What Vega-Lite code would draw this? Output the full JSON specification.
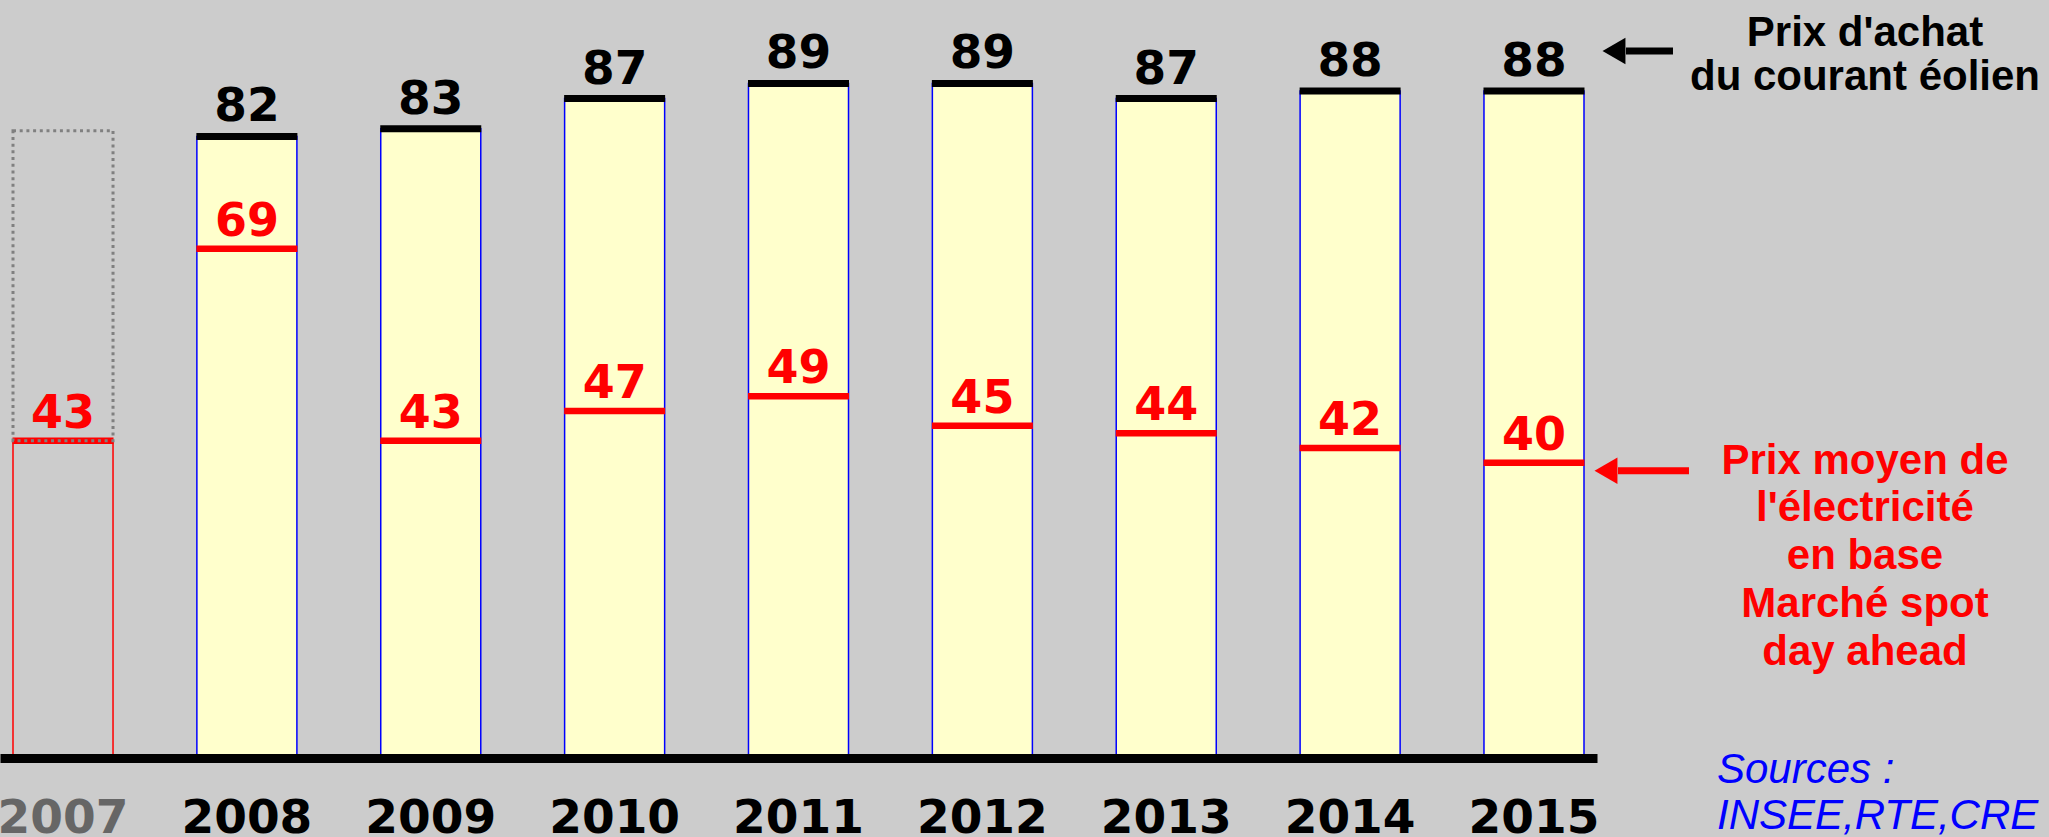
{
  "$schema": "https://vega.github.io/schema/vega-lite/v6.json",
  "width": 1597,
  "height": 758,
  "autosize": {"type": "none"},
  "padding": {"left": 0, "top": 0, "right": 452, "bottom": 79},
  "background": "#cccccc",
  "config": {"view": {"stroke": null}, "font": "Liberation Sans"},
  "data": {
    "values": [
      {"annee": "2007", "achat": null, "spot": 43, "estim": 85},
      {"annee": "2008", "achat": 82, "spot": 69, "estim": null},
      {"annee": "2009", "achat": 83, "spot": 43, "estim": null},
      {"annee": "2010", "achat": 87, "spot": 47, "estim": null},
      {"annee": "2011", "achat": 89, "spot": 49, "estim": null},
      {"annee": "2012", "achat": 89, "spot": 45, "estim": null},
      {"annee": "2013", "achat": 87, "spot": 44, "estim": null},
      {"annee": "2014", "achat": 88, "spot": 42, "estim": null},
      {"annee": "2015", "achat": 88, "spot": 40, "estim": null}
    ]
  },
  "encoding": {
    "x": {
      "field": "annee",
      "type": "ordinal",
      "scale": {"type": "band", "domain": ["2007", "2008", "2009", "2010", "2011", "2012", "2013", "2014", "2015"], "paddingInner": 0.456, "paddingOuter": 0.0707},
      "axis": {
        "title": null,
        "domain": true,
        "domainColor": "#000000",
        "domainWidth": 9,
        "ticks": false,
        "tickSize": 0,
        "grid": false,
        "labelAngle": 0,
        "labelFont": "DejaVu Sans",
        "labelFontSize": 47,
        "labelFontWeight": "bold",
        "labelColor": {"condition": {"test": "datum.value == '2007'", "value": "#666666"}, "value": "#000000"},
        "labelBaseline": "alphabetic",
        "labelPadding": 74,
        "labelOverlap": false,
        "labelBound": false,
        "zindex": 1
      }
    }
  },
  "layer": [
    {
      "layer": [
        {
          "mark": {"type": "bar", "fill": "#ffffcc", "stroke": "#0000ff", "strokeWidth": 1.5},
          "encoding": {
            "y": {"field": "achat", "type": "quantitative", "scale": {"domain": [0, 100], "nice": false}, "axis": null}
          }
        },
        {
          "mark": {"type": "tick", "color": "#000000", "thickness": 7, "size": 101, "opacity": 1},
          "encoding": {"y": {"field": "achat", "type": "quantitative"}}
        },
        {
          "mark": {"type": "text", "font": "DejaVu Sans", "fontSize": 47, "fontWeight": "bold", "color": "#000000", "baseline": "alphabetic", "dy": -15},
          "encoding": {
            "y": {"field": "achat", "type": "quantitative"},
            "text": {"field": "achat", "type": "quantitative"}
          }
        },
        {
          "data": {"values": [{"annee": "2015", "valeur": 88}]},
          "mark": {"type": "rule", "color": "#000000", "strokeWidth": 7, "xOffset": 92, "x2Offset": 139, "yOffset": -40},
          "encoding": {
            "x2": {"field": "annee"},
            "y": {"field": "valeur", "type": "quantitative"}
          }
        },
        {
          "data": {"values": [{"annee": "2015", "valeur": 88}]},
          "mark": {"type": "point", "shape": "triangle-left", "filled": true, "color": "#000000", "opacity": 1, "size": 700, "xOffset": 80, "yOffset": -40},
          "encoding": {"y": {"field": "valeur", "type": "quantitative"}}
        },
        {
          "data": {"values": [{"annee": "2015", "valeur": 88, "texte": "Prix d'achat\ndu courant éolien"}]},
          "mark": {"type": "text", "lineBreak": "\n", "font": "Liberation Sans", "fontSize": 42, "fontWeight": "bold", "color": "#000000", "align": "center", "baseline": "alphabetic", "dx": 331, "dy": -45, "lineHeight": 44},
          "encoding": {
            "y": {"field": "valeur", "type": "quantitative"},
            "text": {"field": "texte"}
          }
        }
      ]
    },
    {
      "layer": [
        {
          "transform": [{"filter": "isValid(datum.estim)"}],
          "mark": {"type": "bar", "filled": false, "color": "#ff0000", "strokeWidth": 1.5},
          "encoding": {
            "y": {"field": "spot", "type": "quantitative", "scale": {"domain": [0, 102.7], "nice": false}, "axis": null}
          }
        },
        {
          "mark": {"type": "tick", "color": "#ff0000", "thickness": 6.5, "size": 101, "opacity": 1},
          "encoding": {"y": {"field": "spot", "type": "quantitative"}}
        },
        {
          "transform": [{"filter": "isValid(datum.estim)"}],
          "mark": {"type": "bar", "filled": false, "color": "#808080", "strokeWidth": 3, "strokeDash": [3, 3.7]},
          "encoding": {
            "y": {"field": "estim", "type": "quantitative"},
            "y2": {"field": "spot"}
          }
        },
        {
          "mark": {"type": "text", "font": "DejaVu Sans", "fontSize": 46, "fontWeight": "bold", "color": "#ff0000", "baseline": "alphabetic", "dy": -13},
          "encoding": {
            "y": {"field": "spot", "type": "quantitative"},
            "text": {"field": "spot", "type": "quantitative"}
          }
        },
        {
          "data": {"values": [{"annee": "2015", "valeur": 40}]},
          "mark": {"type": "rule", "color": "#ff0000", "strokeWidth": 7, "xOffset": 84, "x2Offset": 155, "yOffset": 8},
          "encoding": {
            "x2": {"field": "annee"},
            "y": {"field": "valeur", "type": "quantitative"}
          }
        },
        {
          "data": {"values": [{"annee": "2015", "valeur": 40}]},
          "mark": {"type": "point", "shape": "triangle-left", "filled": true, "color": "#ff0000", "opacity": 1, "size": 700, "xOffset": 72, "yOffset": 8},
          "encoding": {"y": {"field": "valeur", "type": "quantitative"}}
        },
        {
          "data": {"values": [{"annee": "2015", "valeur": 40, "texte": "Prix moyen de\nl'électricité\nen base\nMarché spot\nday ahead"}]},
          "mark": {"type": "text", "lineBreak": "\n", "font": "Liberation Sans", "fontSize": 42, "fontWeight": "bold", "color": "#ff0000", "align": "center", "baseline": "alphabetic", "dx": 331, "dy": 11, "lineHeight": 47.7},
          "encoding": {
            "y": {"field": "valeur", "type": "quantitative"},
            "text": {"field": "texte"}
          }
        },
        {
          "data": {"values": [{"annee": "2015", "valeur": 0, "texte": "Sources :\nINSEE,RTE,CRE"}]},
          "mark": {"type": "text", "lineBreak": "\n", "font": "Liberation Sans", "fontSize": 42, "fontStyle": "italic", "fontWeight": "normal", "color": "#0000ff", "align": "left", "baseline": "alphabetic", "dx": 183, "dy": 25, "lineHeight": 46},
          "encoding": {
            "y": {"field": "valeur", "type": "quantitative"},
            "text": {"field": "texte"}
          }
        }
      ]
    }
  ],
  "resolve": {"scale": {"y": "independent"}}
}
